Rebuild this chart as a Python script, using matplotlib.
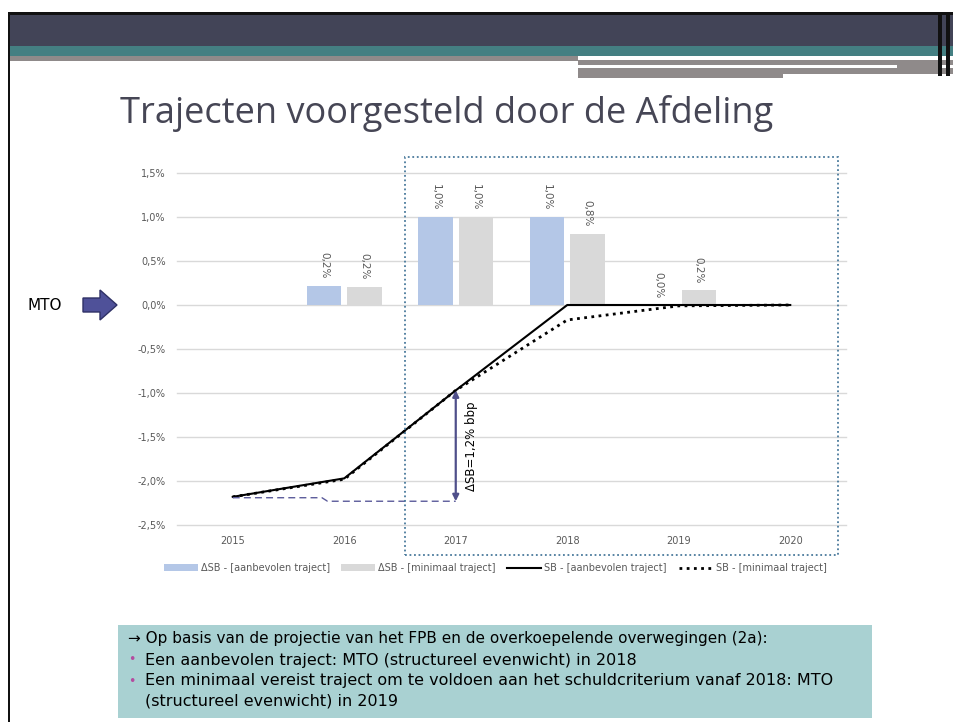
import numpy as np
import matplotlib.pyplot as plt
from matplotlib.patches import Rectangle, Polygon

# data
jaren = ['2015', '2016', '2017', '2018', '2019', '2020']
dsb_aanbevolen = [np.nan, 0.22, 1.0, 1.0, 0.0, np.nan]
dsb_minimaal = [np.nan, 0.21, 1.0, 0.81, 0.17, np.nan]
sb_aanbevolen = [-2.18, -1.97, -0.97, 0.0, 0.0, 0.0]
sb_minimaal = [-2.18, -1.98, -0.97, -0.17, -0.01, 0.0]
# gestreepte hulplijn + pijl (delta SB 2017)
hulp_x = [0, 0.8, 0.85, 2]
hulp_y = [-2.19, -2.19, -2.23, -2.23]
pijl_van, pijl_tot = -2.23, -0.97
yticks = [-2.5, -2.0, -1.5, -1.0, -0.5, 0.0, 0.5, 1.0, 1.5]

W, H = 954, 722
fig = plt.figure(figsize=(W / 100, H / 100), dpi=100)


def px(x, y, w, h):
    # pixel box (links, boven) -> figuurfractie
    return (x / W, 1 - (y + h) / H), w / W, h / H


def blok(x, y, w, h, kleur, **kw):
    xy, ww, hh = px(x, y, w, h)
    fig.add_artist(Rectangle(xy, ww, hh, transform=fig.transFigure,
                             facecolor=kleur, edgecolor='none', **kw))


# kopbalk van de slide
blok(9, 14, 945, 32, '#424457')
blok(9, 46, 945, 10, '#447f82')
blok(9, 56, 569, 5, '#8f8a8a')
blok(578, 60, 376, 5, '#8f8a8a')
blok(578, 68, 205, 10, '#8f8a8a')
blok(783, 68, 171, 6, '#8f8a8a')
blok(897, 60, 43, 14, '#8f8a8a')
blok(8, 12, 946, 3, '#111111')
blok(8, 12, 2, 710, '#111111')
blok(938, 12, 4, 64, '#111111')
blok(946, 12, 4, 64, '#111111')

fig.text(120 / W, 1 - 123 / H, 'Trajecten voorgesteld door de Afdeling',
         fontsize=26, color='#464655', family='Open Sans', va='baseline', ha='left')

# grafiek
ax = fig.add_axes([177 / W, 1 - 525 / H, (846 - 177) / W, (525 - 173) / H])
x = np.arange(len(jaren))
bw = 0.31
b1 = ax.bar(x - 0.18, dsb_aanbevolen, bw, color='#b4c7e7', label='ΔSB - [aanbevolen traject]', zorder=2)
b2 = ax.bar(x + 0.18, dsb_minimaal, bw, color='#d9d9d9', label='ΔSB - [minimaal traject]', zorder=2)
for bars, vals in [(b1, dsb_aanbevolen), (b2, dsb_minimaal)]:
    for b, v in zip(bars, vals):
        if np.isnan(v):
            continue
        ax.annotate(f'{v:.1f}%'.replace('.', ','), (b.get_x() + b.get_width() / 2, v),
                    xytext=(0, 5), textcoords='offset points', rotation=-90,
                    ha='center', va='bottom', fontsize=7.5, color='#595959')

l1, = ax.plot(x, sb_aanbevolen, color='black', lw=1.5, label='SB - [aanbevolen traject]', zorder=3)
l2, = ax.plot(x, sb_minimaal, color='black', lw=2, linestyle=(0, (1, 1.6)),
              label='SB - [minimaal traject]', zorder=3)

ax.plot(hulp_x, hulp_y, color='#5b5b9a', lw=1, linestyle=(0, (5, 3)), zorder=3)
ax.annotate('', xy=(2, pijl_tot), xytext=(2, pijl_van),
            arrowprops=dict(arrowstyle='<|-|>', color='#4f4f8a', lw=1.6,
                            mutation_scale=9, shrinkA=0, shrinkB=0), zorder=4)
ax.text(2.14, (pijl_van + pijl_tot) / 2, 'ΔSB=1,2% bbp', rotation=90,
        ha='center', va='center', fontsize=8.5, color='black')

ax.set_xlim(-0.5, 5.5)
ax.set_ylim(-2.5, 1.5)
ax.set_xticks(x)
ax.set_xticklabels(jaren)
ax.set_yticks(yticks)
ax.set_yticklabels([f'{t:.1f}%'.replace('.', ',') for t in yticks])
ax.tick_params(length=0, labelsize=7, colors='#595959', pad=8)
for t in yticks:
    ax.axhline(t, color='#d9d9d9', lw=1, zorder=0, clip_on=False)
for s in ax.spines.values():
    s.set_visible(False)

fig.legend(handles=[b1, b2, l1, l2], loc='center', bbox_to_anchor=(495 / W, 1 - 568 / H),
           ncol=4, frameon=False, fontsize=7, labelcolor='#595959', handlelength=3.5,
           columnspacing=1.2, handletextpad=0.3)

# gestippeld kader rond 2017-2020
xy, ww, hh = px(405, 157, 433, 398)
fig.add_artist(Rectangle(xy, ww, hh, transform=fig.transFigure, fill=False,
                         edgecolor='#4a7a9c', lw=1.3, linestyle=(0, (1, 1.5))))

# MTO + pijl
fig.text(28 / W, 1 - 305 / H, 'MTO', fontsize=11, va='center', ha='left', color='black')
pijl = [(83, 298), (100, 298), (100, 290), (117, 305), (100, 320), (100, 312), (83, 312)]
fig.add_artist(Polygon([(a / W, 1 - b / H) for a, b in pijl], closed=True,
                       transform=fig.transFigure, facecolor='#4f5199',
                       edgecolor='#2f3166', lw=1))

# tekstvak onderaan
blok(118, 625, 754, 93, '#a9d1d2')
fig.text(128 / W, 1 - 638 / H,
         '→ Op basis van de projectie van het FPB en de overkoepelende overwegingen (2a):',
         fontsize=11, va='center', ha='left', color='black')
regels = ['Een aanbevolen traject: MTO (structureel evenwicht) in 2018',
          'Een minimaal vereist traject om te voldoen aan het schuldcriterium vanaf 2018: MTO',
          '(structureel evenwicht) in 2019']
for i, (r, yy) in enumerate(zip(regels, [660, 681, 701])):
    if i < 2:
        fig.text(128 / W, 1 - yy / H, '•', fontsize=9, color='#b44ca0', va='center', ha='left')
    fig.text(145 / W, 1 - yy / H, r, fontsize=11.5, va='center', ha='left', color='black')

fig.savefig('out.png', dpi=100)
